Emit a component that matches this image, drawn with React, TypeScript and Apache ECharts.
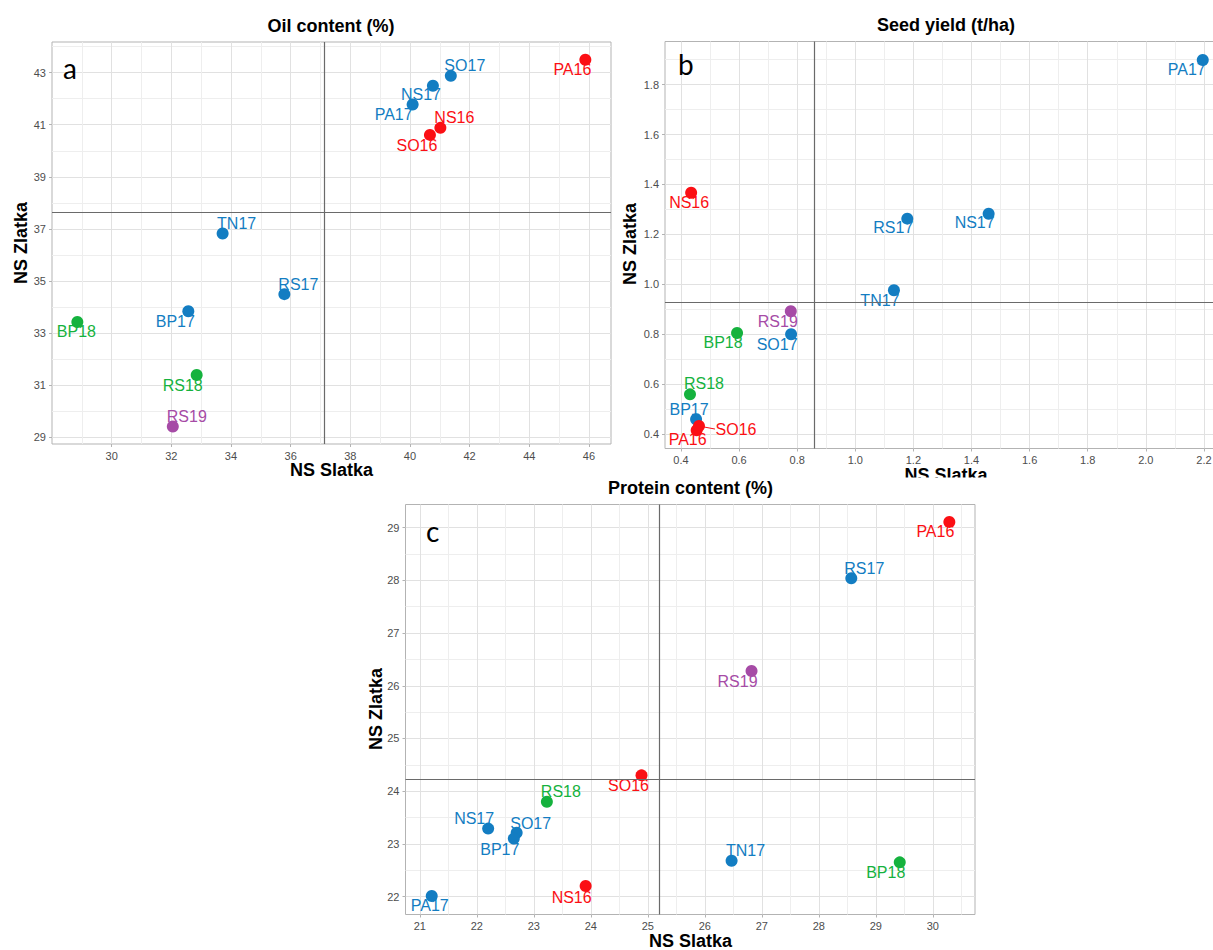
import React, { useEffect, useRef } from "react";
import * as echarts from "echarts";

// ---------- data ----------
const oilNames = ["PA16", "NS16", "SO16", "PA17", "NS17", "SO17", "TN17", "RS17", "BP17", "BP18", "RS18", "RS19"];
const oilSlatka = [45.88, 41.02, 40.67, 40.09, 40.77, 41.37, 33.72, 35.79, 32.57, 28.85, 32.85, 32.05];
const oilZlatka = [43.5, 40.88, 40.61, 41.78, 42.5, 42.88, 36.82, 34.49, 33.83, 33.42, 31.38, 29.4];

const yieldNames = ["NS16", "RS19", "BP18", "SO17", "RS18", "BP17", "SO16", "PA16", "TN17", "RS17", "NS17", "PA17"];
const yieldSlatka = [0.435, 0.778, 0.593, 0.779, 0.431, 0.452, 0.462, 0.454, 1.133, 1.179, 1.459, 2.196];
const yieldZlatka = [1.367, 0.892, 0.805, 0.8, 0.559, 0.459, 0.432, 0.415, 0.976, 1.263, 1.283, 1.899];

const proteinNames = ["PA16", "RS17", "RS19", "SO16", "RS18", "NS17", "SO17", "BP17", "TN17", "BP18", "NS16", "PA17"];
const proteinSlatka = [30.29, 28.57, 26.82, 24.89, 23.23, 22.2, 22.7, 22.65, 26.47, 29.42, 23.91, 21.21];
const proteinZlatka = [29.11, 28.04, 26.28, 24.3, 23.8, 23.29, 23.21, 23.1, 22.68, 22.65, 22.2, 22.01];

// tick labels
const oilXTicks = [30, 32, 34, 36, 38, 40, 42, 44, 46];
const oilYTicks = [29, 31, 33, 35, 37, 39, 41, 43];
const oilXMinor = [29, 31, 33, 35, 37, 39, 41, 43, 45];
const oilYMinor = [30, 32, 34, 36, 38, 40, 42, 44];

const yieldXTicks = [0.4, 0.6, 0.8, 1.0, 1.2, 1.4, 1.6, 1.8, 2.0, 2.2];
const yieldYTicks = [0.4, 0.6, 0.8, 1.0, 1.2, 1.4, 1.6, 1.8];
const yieldXMinor = [0.5, 0.7, 0.9, 1.1, 1.3, 1.5, 1.7, 1.9, 2.1];
const yieldYMinor = [0.5, 0.7, 0.9, 1.1, 1.3, 1.5, 1.7, 1.9];

const proteinXTicks = [21, 22, 23, 24, 25, 26, 27, 28, 29, 30];
const proteinYTicks = [22, 23, 24, 25, 26, 27, 28, 29];
const proteinXMinor = [21.5, 22.5, 23.5, 24.5, 25.5, 26.5, 27.5, 28.5, 29.5, 30.5];
const proteinYMinor = [22.5, 23.5, 24.5, 25.5, 26.5, 27.5, 28.5, 29.5];

// leader line for SO16 label in seed-yield panel
const yieldLeaderX = [0.462, 0.517];
const yieldLeaderY = [0.432, 0.42];

// ---------- style / layout ----------
const yearColors: Record<string, string> = {
  "16": "#fb0f14",
  "17": "#137dc2",
  "18": "#15b23e",
  "19": "#a64ba6",
};
const FONT = '"Liberation Sans", Arial, sans-serif';

const oilOffsets: Record<string, number[]> = {
  PA16: [-13, 10], NS16: [14, -10], SO16: [-13, 11], PA17: [-19, 10], NS17: [-12, 9], SO17: [14, -10],
  TN17: [14, -10], RS17: [14, -10], BP17: [-13, 10], BP18: [-1, 10], RS18: [-14, 10], RS19: [14, -10],
};
const yieldOffsets: Record<string, number[]> = {
  NS16: [-2, 10], RS19: [-13, 10], BP18: [-14, 10], SO17: [-14, 10], RS18: [14, -11], BP17: [-7, -10],
  SO16: [37, 3], PA16: [-9, 9], TN17: [-14, 10], RS17: [-14, 9], NS17: [-14, 9], PA17: [-16, 10],
};
const proteinOffsets: Record<string, number[]> = {
  PA16: [-14, 10], RS17: [13, -10], RS19: [-14, 10], SO16: [-13, 10], RS18: [14, -10], NS17: [-14, -10],
  SO17: [14, -9], BP17: [-14, 11], TN17: [14, -10], BP18: [-14, 10], NS16: [-14, 11], PA17: [-2, 9],
};

const mean = (a: number[]) => a.reduce((s, v) => s + v, 0) / a.length;

type Panel = {
  names: string[];
  xs: number[];
  ys: number[];
  xRange: number[];
  yRange: number[];
  xTicks: number[];
  yTicks: number[];
  xMinor: number[];
  yMinor: number[];
  decimals: number;
  grid: { left: number; top: number; width: number; height: number };
  offsets: Record<string, number[]>;
};

const panels: Panel[] = [
  {
    names: oilNames, xs: oilSlatka, ys: oilZlatka,
    xRange: [28.0, 46.74], yRange: [28.73, 44.18],
    xTicks: oilXTicks, yTicks: oilYTicks, xMinor: oilXMinor, yMinor: oilYMinor,
    decimals: 0, grid: { left: 52, top: 42, width: 559, height: 402 }, offsets: oilOffsets,
  },
  {
    names: yieldNames, xs: yieldSlatka, ys: yieldZlatka,
    xRange: [0.345, 2.276], yRange: [0.342, 1.973],
    xTicks: yieldXTicks, yTicks: yieldYTicks, xMinor: yieldXMinor, yMinor: yieldYMinor,
    decimals: 1, grid: { left: 665, top: 41.5, width: 561, height: 407 }, offsets: yieldOffsets,
  },
  {
    names: proteinNames, xs: proteinSlatka, ys: proteinZlatka,
    xRange: [20.75, 30.74], yRange: [21.66, 29.44],
    xTicks: proteinXTicks, yTicks: proteinYTicks, xMinor: proteinXMinor, yMinor: proteinYMinor,
    decimals: 0, grid: { left: 405.5, top: 504.5, width: 569.5, height: 410 }, offsets: proteinOffsets,
  },
];

function colorOf(name: string) {
  return yearColors[name.slice(2)];
}

function mainAxis(p: Panel, i: number, dim: "x" | "y") {
  const ticks = dim === "x" ? p.xTicks : p.yTicks;
  const range = dim === "x" ? p.xRange : p.yRange;
  return {
    type: "value",
    gridIndex: i,
    min: range[0],
    max: range[1],
    axisLine: { show: false, onZero: false },
    axisTick: { show: true, length: 3, customValues: ticks, lineStyle: { color: "#b3b3b3", width: 1 } },
    axisLabel: {
      show: true,
      customValues: ticks,
      fontSize: 11,
      color: "#4d4d4d",
      fontFamily: FONT,
      margin: 6,
      formatter: (v: number) => (p.decimals ? v.toFixed(p.decimals) : String(v)),
    },
    splitLine: { show: true, lineStyle: { color: "#e1e1e1", width: 1 } },
  };
}

function minorAxis(p: Panel, i: number, dim: "x" | "y") {
  const ticks = dim === "x" ? p.xMinor : p.yMinor;
  const range = dim === "x" ? p.xRange : p.yRange;
  return {
    type: "value",
    gridIndex: i,
    min: range[0],
    max: range[1],
    axisLine: { show: false, onZero: false },
    axisTick: { show: false, customValues: ticks },
    axisLabel: { show: false },
    splitLine: { show: true, lineStyle: { color: "#eeeeee", width: 1 } },
  };
}

function buildOption() {
  const grid = panels.map((p) => ({
    ...p.grid,
    show: true,
    borderColor: "#b3b3b3",
    borderWidth: 1,
    backgroundColor: "transparent",
    containLabel: false,
  }));
  const xAxis: any[] = [];
  const yAxis: any[] = [];
  panels.forEach((p, i) => {
    xAxis.push(mainAxis(p, i, "x"), minorAxis(p, i, "x"));
    yAxis.push(mainAxis(p, i, "y"), minorAxis(p, i, "y"));
  });

  const series: any[] = [];
  panels.forEach((p, i) => {
    series.push({
      type: "scatter",
      xAxisIndex: 2 * i,
      yAxisIndex: 2 * i,
      data: [],
      silent: true,
      z: 1,
      markLine: {
        silent: true,
        symbol: ["none", "none"],
        label: { show: false },
        lineStyle: { color: "#6a6a6a", width: 1.2, type: "solid" },
        data: [{ xAxis: mean(p.xs) }, { yAxis: mean(p.ys) }],
      },
    });
    series.push({
      type: "scatter",
      xAxisIndex: 2 * i,
      yAxisIndex: 2 * i,
      symbolSize: 12,
      z: 3,
      data: p.names.map((n, k) => ({
        name: n,
        value: [p.xs[k], p.ys[k]],
        itemStyle: { color: colorOf(n), opacity: 1 },
        label: { offset: p.offsets[n] || [0, 10], color: colorOf(n) },
      })),
      label: {
        show: true,
        position: "inside",
        formatter: "{b}",
        fontSize: 16,
        fontFamily: FONT,
        align: "center",
        verticalAlign: "middle",
      },
    });
  });

  series.push({
    type: "line",
    xAxisIndex: 2,
    yAxisIndex: 2,
    symbol: "none",
    z: 2,
    lineStyle: { color: yearColors["16"], width: 1 },
    data: yieldLeaderX.map((x, k) => [x, yieldLeaderY[k]]),
  });

  const titleFont = `bold 18px ${FONT}`;
  const text = (t: string, x: number, y: number, font: string, extra: any = {}) => ({
    type: "text",
    x,
    y,
    z: 50,
    style: { text: t, font, fill: "#000", textAlign: "center", textVerticalAlign: "middle" },
    ...extra,
  });

  const graphic: any[] = [
    text("Oil content (%)", 331, 26, titleFont),
    text("Seed yield (t/ha)", 946, 25, titleFont),
    text("Protein content (%)", 690.5, 488, titleFont),
    text("NS Slatka", 331.5, 470, titleFont),
    text("NS Slatka", 946, 475, titleFont),
    text("NS Slatka", 690.5, 941, titleFont),
    text("NS Zlatka", 21, 243, titleFont, { rotation: Math.PI / 2 }),
    text("NS Zlatka", 630, 244, titleFont, { rotation: Math.PI / 2 }),
    text("NS Zlatka", 376, 709, titleFont, { rotation: Math.PI / 2 }),
    {
      type: "rect",
      z: 100,
      shape: { x: 880, y: 477.5, width: 140, height: 10 },
      style: { fill: "#ffffff" },
    },
    {
      type: "text", x: 63, y: 68, z: 50,
      style: { text: "a", font: `28px Lato, "Open Sans", sans-serif`, fill: "#000", textAlign: "left", textVerticalAlign: "middle" },
    },
    {
      type: "text", x: 678, y: 64, z: 50,
      style: { text: "b", font: `28px Lato, "Open Sans", sans-serif`, fill: "#000", textAlign: "left", textVerticalAlign: "middle" },
    },
    {
      type: "text", x: 426, y: 531, z: 50,
      style: { text: "c", font: `28px Lato, "Open Sans", sans-serif`, fill: "#000", textAlign: "left", textVerticalAlign: "middle" },
    },
  ];

  return {
    animation: false,
    backgroundColor: "#ffffff",
    grid,
    xAxis,
    yAxis,
    series,
    graphic,
  };
}

export default function App() {
  const ref = useRef<HTMLDivElement>(null);
  useEffect(() => {
    if (!ref.current) return;
    const chart = echarts.init(ref.current, undefined, { renderer: "svg" });
    chart.setOption(buildOption() as any);
    return () => chart.dispose();
  }, []);
  return (
    <div style={{ position: "absolute", left: 0, top: 0, width: 1213, height: 950, overflow: "hidden", background: "#fff" }}>
      <div ref={ref} style={{ width: 1240, height: 950 }} />
    </div>
  );
}
